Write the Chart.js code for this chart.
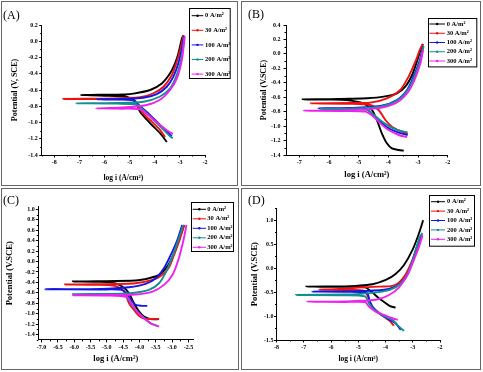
<!DOCTYPE html>
<html>
<head>
<meta charset="utf-8">
<script src="https://cdn.jsdelivr.net/npm/chart.js@4.4.1/dist/chart.umd.min.js"></script>
<style>
  body { margin: 0; background: #fff; width: 483px; height: 372px; position: relative; overflow: hidden; }
  .box { position: absolute; border: 1px solid #666; box-sizing: border-box; }
  canvas { position: absolute; }
</style>
</head>
<body>
<div class="box" style="left:1px;top:1px;width:237px;height:185px"></div>
<div class="box" style="left:241px;top:1px;width:240px;height:185px"></div>
<div class="box" style="left:1px;top:188px;width:238px;height:182px"></div>
<div class="box" style="left:241px;top:188px;width:240px;height:182px"></div>
<canvas id="cA" width="235" height="183" style="left:2px;top:2px"></canvas>
<canvas id="cB" width="238" height="183" style="left:242px;top:2px"></canvas>
<canvas id="cC" width="236" height="180" style="left:2px;top:189px"></canvas>
<canvas id="cD" width="238" height="180" style="left:242px;top:189px"></canvas>
<script>
// current densities, same for all four panels
const seriesLabels = ['0 A/m²', '30 A/m²', '100 A/m²', '200 A/m²', '300 A/m²'];

// tick labels
const xTicksA = [-8, -7, -6, -5, -4, -3, -2];
const yTicksA = [-1.4, -1.2, -1.0, -0.8, -0.6, -0.4, -0.2, 0.0, 0.2];
const xTicksB = [-7, -6, -5, -4, -3, -2];
const yTicksB = [-1.4, -1.2, -1.0, -0.8, -0.6, -0.4, -0.2, 0.0, 0.2, 0.4];
const xTicksC = [-7.0, -6.5, -6.0, -5.5, -5.0, -4.5, -4.0, -3.5, -3.0, -2.5];
const yTicksC = [-1.4, -1.2, -1.0, -0.8, -0.6, -0.4, -0.2, 0.0, 0.2, 0.4, 0.6, 0.8, 1.0];
const xTicksD = [-8, -7, -6, -5, -4, -3, -2];
const yTicksD = [-1.5, -1.0, -0.5, 0.0, 0.5, 1.0];

// polarisation curves [log i, E], cathodic end -> Ecorr -> anodic end
// panel A
const a0 = [[-3.52,-1.24],[-3.79,-1.13],[-4.18,-1.01],[-4.58,-0.87],[-4.78,-0.74],[-5.1,-0.685],[-6.0,-0.67],[-6.95,-0.663],[-6.0,-0.658],[-5.2,-0.655],[-4.85,-0.645],[-4.18,-0.60],[-3.72,-0.52],[-3.39,-0.395],[-3.19,-0.27],[-3.06,-0.15],[-2.92,0.035],[-2.86,0.07]];
const a30 = [[-3.59,-1.18],[-3.79,-1.09],[-4.05,-1.01],[-4.45,-0.89],[-4.72,-0.78],[-4.9,-0.725],[-6.0,-0.712],[-7.64,-0.71],[-6.0,-0.706],[-5.25,-0.70],[-4.58,-0.69],[-4.05,-0.64],[-3.65,-0.56],[-3.32,-0.415],[-3.12,-0.25],[-2.96,-0.067],[-2.86,0.07]];
const a100 = [[-3.32,-1.17],[-3.45,-1.13],[-3.79,-1.03],[-4.18,-0.91],[-4.58,-0.80],[-4.85,-0.725],[-5.6,-0.718],[-6.31,-0.715],[-5.6,-0.712],[-4.45,-0.695],[-3.92,-0.65],[-3.52,-0.56],[-3.26,-0.436],[-3.06,-0.272],[-2.92,-0.087],[-2.83,0.07]];
const a200 = [[-3.28,-1.195],[-3.39,-1.17],[-3.65,-1.09],[-4.05,-0.97],[-4.45,-0.846],[-4.72,-0.78],[-5.5,-0.768],[-7.13,-0.764],[-5.5,-0.76],[-4.45,-0.744],[-3.79,-0.68],[-3.39,-0.58],[-3.15,-0.436],[-2.99,-0.272],[-2.88,-0.087],[-2.82,0.057]];
const a300 = [[-3.28,-1.14],[-3.45,-1.11],[-3.79,-1.03],[-4.18,-0.928],[-4.58,-0.838],[-4.9,-0.83],[-5.3,-0.83],[-6.34,-0.826],[-5.3,-0.815],[-4.32,-0.784],[-3.79,-0.72],[-3.39,-0.60],[-3.12,-0.457],[-2.92,-0.231],[-2.82,0.015],[-2.80,0.06]];
// panel B
const b0 = [[-3.48,-1.34],[-3.65,-1.33],[-3.88,-1.308],[-4.05,-1.238],[-4.22,-1.10],[-4.39,-0.915],[-4.55,-0.777],[-4.84,-0.685],[-5.4,-0.64],[-6.0,-0.633],[-6.89,-0.63],[-6.0,-0.627],[-5.3,-0.622],[-4.72,-0.615],[-4.16,-0.592],[-3.71,-0.546],[-3.43,-0.454],[-3.2,-0.292],[-3.04,-0.108],[-2.9,0.077],[-2.83,0.137]];
const b30 = [[-3.35,-1.11],[-3.6,-1.068],[-3.88,-1.008],[-4.1,-0.915],[-4.33,-0.777],[-4.61,-0.708],[-5.3,-0.69],[-6.62,-0.685],[-5.3,-0.68],[-4.61,-0.675],[-4.05,-0.615],[-3.6,-0.50],[-3.32,-0.316],[-3.09,-0.108],[-2.94,0.054],[-2.84,0.137]];
const b100 = [[-3.35,-1.123],[-3.65,-1.09],[-3.99,-1.03],[-4.27,-0.938],[-4.5,-0.846],[-4.72,-0.768],[-5.3,-0.757],[-6.36,-0.754],[-5.3,-0.75],[-4.27,-0.722],[-3.71,-0.638],[-3.37,-0.50],[-3.15,-0.316],[-2.94,-0.085],[-2.83,0.10]];
const b200 = [[-3.35,-1.086],[-3.65,-1.06],[-3.99,-1.0],[-4.27,-0.92],[-4.5,-0.84],[-4.72,-0.775],[-5.3,-0.765],[-6.3,-0.762],[-5.3,-0.758],[-4.27,-0.73],[-3.71,-0.645],[-3.35,-0.50],[-3.12,-0.316],[-2.92,-0.085],[-2.81,0.11]];
const b300 = [[-3.37,-1.155],[-3.65,-1.123],[-3.99,-1.054],[-4.27,-0.962],[-4.5,-0.869],[-4.77,-0.80],[-5.5,-0.79],[-6.86,-0.786],[-5.5,-0.782],[-4.39,-0.754],[-3.77,-0.685],[-3.37,-0.546],[-3.12,-0.362],[-2.92,-0.131],[-2.83,0.054]];
// panel C
const c0 = [[-3.4,-1.103],[-3.66,-1.103],[-3.86,-1.052],[-4.01,-0.957],[-4.17,-0.797],[-4.32,-0.606],[-4.53,-0.479],[-4.85,-0.40],[-5.3,-0.388],[-6.04,-0.383],[-5.3,-0.378],[-4.12,-0.364],[-3.71,-0.32],[-3.4,-0.256],[-3.15,-0.096],[-2.94,0.158],[-2.79,0.413],[-2.63,0.70]];
const c30 = [[-3.4,-1.097],[-3.81,-1.097],[-4.01,-1.04],[-4.17,-0.925],[-4.32,-0.797],[-4.47,-0.574],[-4.75,-0.466],[-5.4,-0.445],[-6.28,-0.44],[-5.4,-0.435],[-4.12,-0.415],[-3.6,-0.351],[-3.35,-0.275],[-3.11,-0.128],[-2.94,0.127],[-2.77,0.413],[-2.63,0.70]];
const c100 = [[-3.76,-0.848],[-3.93,-0.848],[-4.12,-0.829],[-4.22,-0.765],[-4.37,-0.638],[-4.53,-0.543],[-5.2,-0.535],[-6.9,-0.53],[-5.2,-0.525],[-4.32,-0.492],[-3.81,-0.428],[-3.5,-0.32],[-3.25,-0.128],[-3.04,0.127],[-2.84,0.413],[-2.69,0.70]];
const c200 = [[-3.45,-1.23],[-3.66,-1.18],[-3.91,-1.052],[-4.12,-0.925],[-4.27,-0.797],[-4.43,-0.657],[-5.0,-0.63],[-6.04,-0.625],[-5.0,-0.62],[-4.27,-0.606],[-3.71,-0.543],[-3.4,-0.415],[-3.18,-0.192],[-2.99,0.095],[-2.81,0.413],[-2.66,0.70]];
const c300 = [[-3.4,-1.244],[-3.61,-1.20],[-3.86,-1.084],[-4.07,-0.957],[-4.22,-0.829],[-4.38,-0.683],[-5.0,-0.65],[-6.04,-0.645],[-5.0,-0.64],[-4.12,-0.632],[-3.6,-0.575],[-3.25,-0.447],[-2.99,-0.256],[-2.81,0.031],[-2.65,0.413],[-2.56,0.70]];
// panel D
const d0 = [[-3.63,-0.823],[-3.81,-0.80],[-3.99,-0.733],[-4.24,-0.63],[-4.48,-0.51],[-4.75,-0.40],[-5.5,-0.39],[-6.91,-0.385],[-5.5,-0.38],[-5.1,-0.37],[-4.48,-0.336],[-3.99,-0.246],[-3.63,-0.12],[-3.32,0.067],[-3.01,0.38],[-2.77,0.73],[-2.62,1.0]];
const d30 = [[-3.69,-1.2],[-3.87,-1.09],[-4.2,-0.95],[-4.5,-0.80],[-4.62,-0.62],[-4.8,-0.47],[-5.5,-0.455],[-6.45,-0.45],[-5.5,-0.43],[-4.9,-0.40],[-4.2,-0.385],[-3.75,-0.37],[-3.5,-0.30],[-3.25,-0.12],[-3.05,0.12],[-2.85,0.42],[-2.68,0.68]];
const d100 = [[-3.44,-1.29],[-3.63,-1.15],[-3.87,-1.07],[-4.24,-0.94],[-4.48,-0.80],[-4.6,-0.66],[-4.67,-0.52],[-5.5,-0.495],[-6.69,-0.49],[-5.5,-0.485],[-4.12,-0.455],[-3.63,-0.385],[-3.32,-0.246],[-3.07,0.033],[-2.89,0.38],[-2.71,0.66],[-2.65,0.70]];
const d200 = [[-3.32,-1.31],[-3.5,-1.22],[-3.75,-1.08],[-4.12,-0.98],[-4.42,-0.87],[-4.61,-0.73],[-4.75,-0.59],[-5.5,-0.565],[-7.28,-0.56],[-5.5,-0.55],[-5.1,-0.545],[-4.12,-0.49],[-3.63,-0.40],[-3.32,-0.246],[-3.13,-0.037],[-2.96,0.24],[-2.74,0.66],[-2.64,0.73]];
const d300 = [[-3.55,-1.08],[-3.75,-1.046],[-4.06,-0.976],[-4.36,-0.907],[-4.61,-0.80],[-4.75,-0.71],[-5.5,-0.705],[-6.88,-0.70],[-5.5,-0.695],[-4.36,-0.66],[-3.87,-0.56],[-3.5,-0.40],[-3.19,-0.14],[-2.96,0.17],[-2.77,0.45],[-2.64,0.69]];

const colors = ['#000000', '#f01010', '#1414e6', '#129090', '#f020f0'];
const SERIF = '"Liberation Serif", "Times New Roman", serif';

// panel letter, minor ticks and the boxed legend
const decor = {
  id: 'decor',
  afterDraw(chart, args, o) {
    const ctx = chart.ctx;
    const ca = chart.chartArea;
    const xs = chart.scales.x, ys = chart.scales.y;
    ctx.save();
    ctx.fillStyle = '#000';
    ctx.font = '12px ' + SERIF;
    ctx.textAlign = 'left';
    ctx.textBaseline = 'middle';
    ctx.fillText(o.letter, o.lx, o.ly);

    ctx.strokeStyle = '#000';
    ctx.lineWidth = 1;
    const minors = (s) => {
      const t = s.ticks.map(k => k.value);
      const st = t[1] - t[0];
      const out = [];
      for (let i = -1; i < t.length; i++) {
        const v = t[0] + (i + 0.5) * st;
        if (v >= s.min - 1e-9 && v <= s.max + 1e-9) out.push(v);
      }
      return out;
    };
    ctx.beginPath();
    minors(xs).forEach(v => {
      const px = Math.round(xs.getPixelForValue(v)) + 0.5;
      ctx.moveTo(px, ca.bottom); ctx.lineTo(px, ca.bottom + 1.5);
    });
    minors(ys).forEach(v => {
      const py = Math.round(ys.getPixelForValue(v)) + 0.5;
      ctx.moveTo(ca.left - 1.5, py); ctx.lineTo(ca.left, py);
    });
    ctx.stroke();

    const g = o.lg;
    ctx.strokeRect(Math.round(g.x) + 0.5, Math.round(g.y) + 0.5, g.w, g.h);
    ctx.font = 'bold ' + o.lf + 'px ' + SERIF;
    chart.data.datasets.forEach((ds, i) => {
      const y = g.y + g.first + i * g.gap;
      ctx.strokeStyle = ds.borderColor;
      ctx.fillStyle = ds.borderColor;
      ctx.beginPath();
      ctx.moveTo(g.x + g.l0, y); ctx.lineTo(g.x + g.l1, y);
      ctx.stroke();
      ctx.beginPath();
      ctx.arc(g.x + (g.l0 + g.l1) / 2, y, 1.2, 0, Math.PI * 2);
      ctx.fill();
      ctx.fillStyle = '#000';
      ctx.fillText(ds.label, g.x + g.tx, y);
    });
    ctx.restore();
  }
};

function makeChart(id, series, o) {
  return new Chart(document.getElementById(id), {
    type: 'scatter',
    data: {
      datasets: series.map((pts, i) => ({
        label: seriesLabels[i],
        data: pts.map(p => ({x: p[0], y: p[1]})),
        showLine: true,
        borderColor: colors[i],
        backgroundColor: colors[i],
        borderWidth: 1.9,
        pointRadius: 0,
        tension: 0.25,
        order: series.length - i
      }))
    },
    options: {
      responsive: false,
      animation: false,
      events: [],
      layout: { padding: o.pad },
      plugins: {
        legend: { display: false },
        tooltip: { enabled: false },
        decor: o.decor
      },
      scales: {
        x: {
          type: 'linear',
          min: o.xr[0],
          max: o.xr[1],
          afterBuildTicks: s => { s.ticks = o.xt.map(v => ({value: v})); },
          afterFit: s => { s.height = o.xh; },
          ticks: {
            font: { family: SERIF, size: o.tf, weight: 'bold' },
            color: '#000', padding: 1, maxRotation: 0, autoSkip: false,
            callback: v => v.toFixed(o.xd)
          },
          grid: { drawOnChartArea: false, tickLength: 2.5, color: '#000' },
          border: { color: '#000', width: 1 },
          title: {
            display: true, text: 'log i (A/cm²)', color: '#000',
            font: { family: SERIF, size: o.xtf, weight: 'bold' },
            padding: { top: 0, bottom: o.xtp }
          }
        },
        y: {
          type: 'linear',
          min: o.yr[0],
          max: o.yr[1],
          afterBuildTicks: s => { s.ticks = o.yt.map(v => ({value: v})); },
          afterFit: s => { s.width = o.yw; },
          ticks: {
            font: { family: SERIF, size: o.tf, weight: 'bold' },
            color: '#000', padding: o.yp, autoSkip: false,
            callback: v => v.toFixed(1)
          },
          grid: { drawOnChartArea: false, tickLength: 2.5, color: '#000' },
          border: { color: '#000', width: 1 },
          title: {
            display: true, text: o.ytitle, color: '#000',
            font: { family: SERIF, size: o.ytf, weight: 'bold' },
            padding: { top: o.ytp, bottom: 0 }
          }
        }
      }
    },
    plugins: [decor]
  });
}

makeChart('cA', [a0, a30, a100, a200, a300], {
  xr: [-8.5, -2], yr: [-1.4, 0.2], xt: xTicksA, yt: yTicksA, xd: 0,
  pad: { left: 0, top: 23, right: 32, bottom: 0 }, yw: 39.7, xh: 30,
  tf: 6, yp: 1.5, ytitle: 'Potential (V, SCE)', ytf: 8, ytp: 8.2, xtf: 7.5, xtp: 2.5,
  decor: { letter: '(A)', lx: 1, ly: 14, lf: 6.5,
    lg: { x: 187.3, y: 6.3, w: 40.7, h: 70, first: 7.4, gap: 14.6, l0: 2.4, l1: 14, tx: 15.7 } }
});

makeChart('cB', [b0, b30, b100, b200, b300], {
  xr: [-7.45, -2], yr: [-1.4, 0.4], xt: xTicksB, yt: yTicksB, xd: 0,
  pad: { left: 0, top: 23, right: 32.3, bottom: 0 }, yw: 44, xh: 30,
  tf: 6, yp: 3, ytitle: 'Potential (V.SCE)', ytf: 8, ytp: 17.5, xtf: 8.5, xtp: 4.9,
  decor: { letter: '(B)', lx: 6, ly: 13, lf: 6.5,
    lg: { x: 185.7, y: 16.3, w: 48.3, h: 48.4, first: 5.7, gap: 9.25, l0: 1.6, l1: 17.3, tx: 19 } }
});

makeChart('cC', [c0, c30, c100, c200, c300], {
  xr: [-7.1, -2.35], yr: [-1.5, 1.05], xt: xTicksC, yt: yTicksC, xd: 1,
  pad: { left: 0, top: 17.7, right: 44.7, bottom: 0 }, yw: 36.3, xh: 29.1,
  tf: 6, yp: 1, ytitle: 'Potential (V.SCE)', ytf: 8.5, ytp: 2.9, xtf: 8.5, xtp: 4.9,
  decor: { letter: '(C)', lx: 1, ly: 12, lf: 6.5,
    lg: { x: 188.7, y: 13, w: 42, h: 49, first: 7.3, gap: 9.5, l0: 2, l1: 15.3, tx: 16.6 } }
});

makeChart('cD', [d0, d30, d100, d200, d300], {
  xr: [-8, -2], yr: [-1.5, 1.25], xt: xTicksD, yt: yTicksD, xd: 0,
  pad: { left: 0, top: 19.3, right: 40, bottom: 0 }, yw: 34.5, xh: 29,
  tf: 6, yp: 0.5, ytitle: 'Potential (V.SCE)', ytf: 8.5, ytp: 7.2, xtf: 7.5, xtp: 5.5,
  decor: { letter: '(D)', lx: 6, ly: 12, lf: 6.5,
    lg: { x: 186.7, y: 6.3, w: 45, h: 50.7, first: 6.4, gap: 9.4, l0: 2.3, l1: 16.3, tx: 18.3 } }
});
</script>
</body>
</html>
